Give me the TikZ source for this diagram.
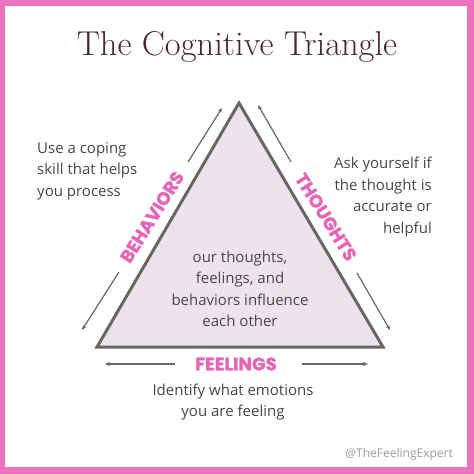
\documentclass[tikz,border=0pt]{standalone}
\usepackage{fontspec}
\setmainfont{Latin Modern Roman}
\newfontfamily\bodyfont{Open Sans}
\newfontfamily\labfont[BoldFeatures={FakeBold=1.2}]{Poppins}
\usetikzlibrary{arrows.meta}
\definecolor{borderpink}{HTML}{EC72C0}
\definecolor{labpink}{HTML}{E566B6}
\definecolor{titlecol}{HTML}{4B2638}
\definecolor{tristroke}{HTML}{676767}
\definecolor{trifill}{HTML}{EEE3EB}
\definecolor{bodycol}{HTML}{474747}
\definecolor{wmcol}{HTML}{9C9C9C}
\tikzset{
  body/.style={font=\bodyfont\fontsize{15}{21.5}\selectfont, text=bodycol, inner sep=0pt},
  sidelabel/.style={font=\labfont\bfseries\fontsize{18}{18}\selectfont, text=labpink, inner sep=0pt},
  arr/.style={draw=tristroke, line width=1.2pt, -{Stealth[length=5pt,width=4pt]}},
}
\begin{document}
\begin{tikzpicture}[x=1pt,y=-1pt]
\useasboundingbox (0,0) rectangle (474,474);
\fill[borderpink] (0,0) rectangle (474,474);
\fill[white] (5,6) rectangle (467,467);
% title
\node[font=\fontsize{34.5}{34.5}\selectfont, text=titlecol, anchor=base, inner sep=0pt] (title) at (237,55) {The Cognitive Triangle};
% triangle
\coordinate (apex) at (239,103);
\coordinate (bl) at (97,347);
\coordinate (br) at (383,347);
\draw[draw=tristroke, fill=trifill, line width=3pt, line join=miter] (apex) -- (br) -- (bl) -- cycle;
% left arrows
\coordinate (l1) at (82,330);
\coordinate (l2) at (119,272);
\coordinate (l3) at (188,162);
\coordinate (l4) at (222,108);
\draw[arr] (l2) -- (l1);
\draw[arr] (l3) -- (l4);
% right arrows
\coordinate (r1) at (258,105);
\coordinate (r2) at (291,162);
\coordinate (r3) at (357,273);
\coordinate (r4) at (390,330);
\draw[arr] (r2) -- (r1);
\draw[arr] (r3) -- (r4);
% bottom arrows
\coordinate (b1) at (105,364);
\coordinate (b2) at (175,364);
\coordinate (b3) at (302,364);
\coordinate (b4) at (368,364);
\draw[arr] (b2) -- (b1);
\draw[arr] (b3) -- (b4);
% side labels
\node[sidelabel, rotate=58] (behav) at (152,217) {BEHAVIORS};
\node[sidelabel, rotate=-58] (thoughts) at (326,217) {THOUGHTS};
\node[sidelabel] (feel) at (236,364) {FEELINGS};
% texts
\node[body, align=center] (center) at (240,289) {our thoughts,\\feelings, and\\behaviors influence\\each other};
\node[body, align=left, anchor=west] (lefttxt) at (37,171) {Use a coping\\skill that helps\\you process};
\node[body, align=right, anchor=east] (righttxt) at (432,197) {Ask yourself if\\the thought is\\accurate or\\helpful};
\node[body, align=center] (bottomtxt) at (233,402) {Identify what emotions\\you are feeling};
\node[font=\bodyfont\fontsize{12}{12}\selectfont, text=wmcol, anchor=east, inner sep=0pt] (wm) at (453,454) {@TheFeelingExpert};
\end{tikzpicture}
\end{document}
